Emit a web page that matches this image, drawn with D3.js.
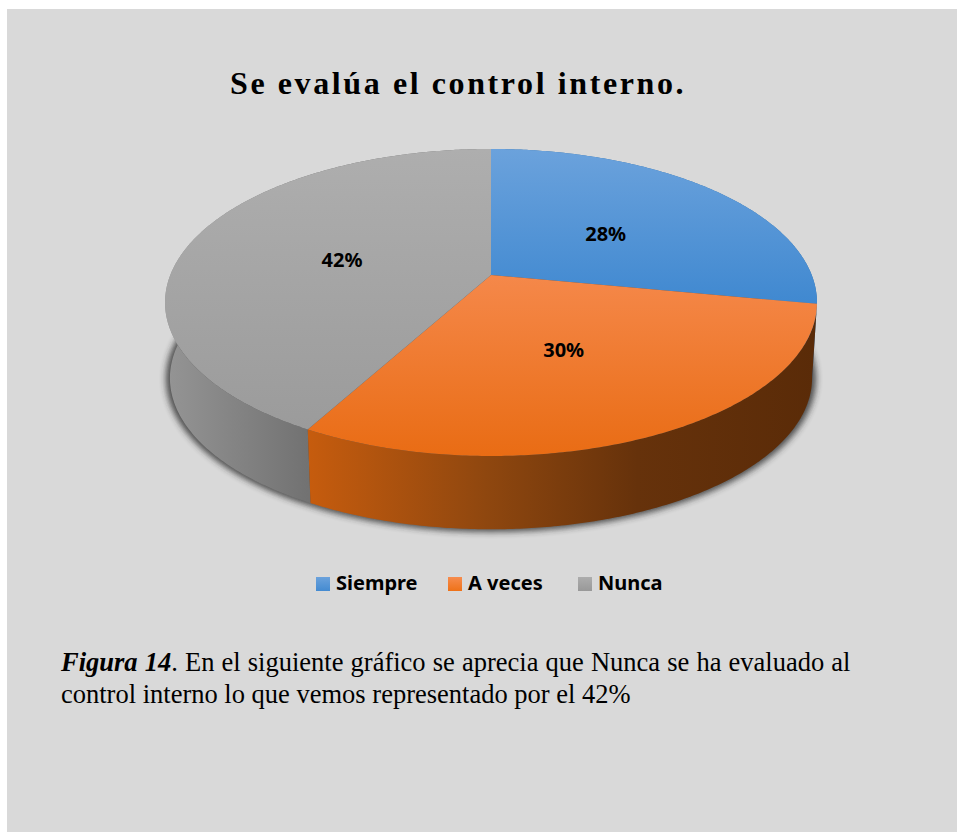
<!DOCTYPE html>
<html lang="es">
<head>
<meta charset="utf-8">
<title>Se evalúa el control interno.</title>
<script src="https://cdn.jsdelivr.net/npm/d3@7/dist/d3.min.js"></script>
<style>
  html, body { margin: 0; padding: 0; background: #fff; }
  svg { display: block; }
</style>
</head>
<body>
<script>
const categories = ["Siempre", "A veces", "Nunca"];
const percents = [28, 30, 42];
const titleText = "Se evalúa el control interno.";
const captionLead = "Figura 14";
const captionFirst = ". En el siguiente gráfico se aprecia que Nunca se ha evaluado al";
const captionSecond = "control interno lo que vemos representado por el 42%";

const topStops = [
  [["0%", "#6ba2dc"], ["100%", "#3f88d0"]],
  [["0%", "#f5884a"], ["100%", "#e96c14"]],
  [["0%", "#aeaeae"], ["100%", "#9b9b9b"]]
];
const sideStops = [
  [["0%", "#2f6ea8"], ["100%", "#2f6ea8"]],
  [["0%", "#c65c0e"], ["35%", "#8f470f"], ["65%", "#66320b"], ["100%", "#5a2b08"]],
  [["0%", "#949494"], ["100%", "#727272"]]
];
const swatchStops = [
  [["0%", "#6ba2dc"], ["100%", "#4189d0"]],
  [["0%", "#f68c4e"], ["100%", "#ee7014"]],
  [["0%", "#adadad"], ["100%", "#979797"]]
];

const width = 957, height = 832;
const svg = d3.select("body").append("svg").attr("width", width).attr("height", height);
const defs = svg.append("defs");

svg.append("rect").attr("width", width).attr("height", height).attr("fill", "#fff");
svg.append("rect").attr("x", 7).attr("y", 9).attr("width", width - 7).attr("height", height - 9).attr("fill", "#d9d9d9");

// Perspective view of the disc: nearer points spread further from the axis.
const cx = 491, cy = 275, spanX = 320.7, spanY = 148.6, tilt = -0.179;
const depth = 76, baseShrink = 0.985;
function project(angle, r = 1, level = 0) {
  const u = r * Math.sin(angle), v = -r * Math.cos(angle);
  const d = 1 + tilt * v;
  const s = level ? baseShrink : 1;
  return [cx + s * spanX * u / d, cy + level * depth + s * spanY * v / d];
}
function samples(a0, a1) {
  const n = Math.max(2, Math.ceil((a1 - a0) / 0.01));
  return d3.range(n + 1).map(i => a0 + (a1 - a0) * i / n);
}
const line = d3.line();

const slices = d3.pie().sort(null).value(d => d)(percents);

function gradient(id, stops, attrs) {
  const g = defs.append("linearGradient").attr("id", id).attr("gradientUnits", "userSpaceOnUse");
  Object.entries(attrs).forEach(([k, v]) => g.attr(k, v));
  stops.forEach(([o, c]) => g.append("stop").attr("offset", o).attr("stop-color", c));
}
slices.forEach((s, i) => {
  gradient("top" + i, topStops[i], { x1: 0, x2: 0, y1: i === 1 ? 275 : 149, y2: i === 1 ? 456 : (i === 0 ? 306 : 430) });
  const xs = i === 2 ? { x1: 168, x2: 308 } : { x1: 308, x2: 815 };
  gradient("side" + i, sideStops[i], { ...xs, y1: 0, y2: 0 });
  gradient("swatch" + i, swatchStops[i], { x1: 0, x2: 0, y1: 577, y2: 592 });
});

defs.append("filter").attr("id", "soft").attr("x", "-10%").attr("y", "-10%").attr("width", "120%").attr("height", "120%")
  .append("feGaussianBlur").attr("stdDeviation", 3);

// Soft shadow under the base of the disc.
const fullTurn = samples(0, 2 * Math.PI);
svg.append("path")
  .attr("d", line(fullTurn.map(a => project(a, 1.012, 1))) + "Z")
  .attr("fill", "#2b2b2b")
  .attr("opacity", 0.8)
  .attr("filter", "url(#soft)");

// Rim of each slice, back to front.
const disc = svg.append("g");
[0, 2, 1].forEach(i => {
  const s = slices[i];
  const angles = samples(s.startAngle, s.endAngle);
  const rim = angles.map(a => project(a)).concat(angles.slice().reverse().map(a => project(a, 1, 1)));
  disc.append("path").attr("d", line(rim) + "Z").attr("fill", `url(#side${i})`);
});

// Upper face of each slice.
slices.forEach((s, i) => {
  const face = [[cx, cy]].concat(samples(s.startAngle, s.endAngle).map(a => project(a)));
  disc.append("path").attr("d", line(face) + "Z").attr("fill", `url(#top${i})`);
});

// Percentage labels sit halfway out along each slice's middle angle.
const valueFont = "'Noto Sans', sans-serif";
svg.append("g").selectAll("text").data(slices).join("text")
  .attr("x", d => project((d.startAngle + d.endAngle) / 2, 0.49)[0])
  .attr("y", d => project((d.startAngle + d.endAngle) / 2, 0.49)[1] + 10)
  .attr("text-anchor", "middle")
  .attr("font-family", valueFont)
  .attr("font-weight", 700)
  .attr("font-size", 20)
  .attr("fill", "#000")
  .text(d => d.value + "%");

svg.append("text")
  .attr("x", 230).attr("y", 94)
  .attr("font-family", "'Liberation Serif', serif")
  .attr("font-weight", 700)
  .attr("font-size", 32)
  .attr("letter-spacing", 2.6)
  .attr("fill", "#000")
  .text(titleText);

// Legend
const legendX = d3.scaleOrdinal().domain(categories).range([316, 448, 578]);
const legend = svg.append("g").selectAll("g").data(categories).join("g")
  .attr("transform", d => `translate(${legendX(d)},0)`);
legend.append("rect")
  .attr("y", 577).attr("width", 14).attr("height", 14)
  .attr("fill", (d, i) => `url(#swatch${i})`);
legend.append("text")
  .attr("x", 20).attr("y", 590)
  .attr("font-family", valueFont)
  .attr("font-weight", 700)
  .attr("font-size", 20)
  .attr("fill", "#000")
  .text(d => d);

// Caption below the chart
const caption = svg.append("g")
  .attr("font-family", "'Liberation Serif', serif")
  .attr("font-size", 26.5)
  .attr("fill", "#000");
const firstLine = caption.append("text").attr("x", 61).attr("y", 671).attr("word-spacing", 0.5);
firstLine.append("tspan").attr("font-weight", 700).attr("font-style", "italic").text(captionLead);
firstLine.append("tspan").text(captionFirst);
caption.append("text").attr("x", 61).attr("y", 703).text(captionSecond);
</script>
</body>
</html>
